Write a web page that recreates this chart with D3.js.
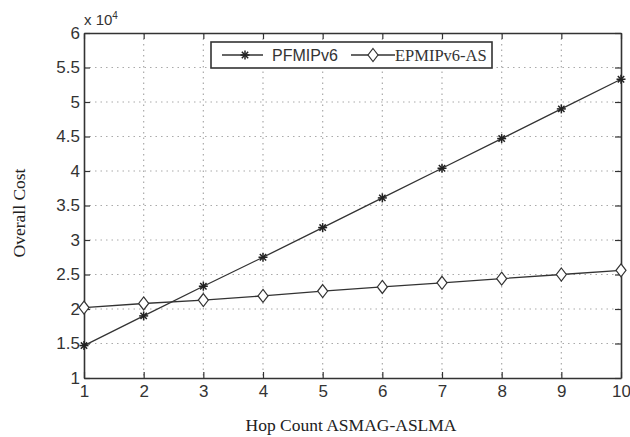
<!DOCTYPE html>
<html>
<head>
<meta charset="utf-8">
<script src="https://cdn.jsdelivr.net/npm/d3@7/dist/d3.min.js"></script>
<style>
  body { margin: 0; background: #fff; }
  svg { display: block; }
</style>
</head>
<body>
<svg id="chart" width="630" height="437"></svg>
<script>
// data (values in units of 10^4)
const hops = [1, 2, 3, 4, 5, 6, 7, 8, 9, 10];
const pfmip = [1.47, 1.90, 2.33, 2.75, 3.18, 3.61, 4.04, 4.47, 4.90, 5.33];
const epmipAs = [2.02, 2.08, 2.13, 2.19, 2.26, 2.32, 2.38, 2.44, 2.50, 2.56];
const yTicks = [1, 1.5, 2, 2.5, 3, 3.5, 4, 4.5, 5, 5.5, 6];

const svg = d3.select('#chart');
const m = { left: 84, right: 621, top: 33, bottom: 378 };
const ink = '#333';
const sans = '"Liberation Sans", Arial, sans-serif';
const serif = '"Liberation Serif", "Times New Roman", serif';

const x = d3.scaleLinear().domain([1, 10]).range([m.left, m.right]);
const y = d3.scaleLinear().domain([1, 6]).range([m.bottom, m.top]);

// grid, dotted
const grid = svg.append('g');
grid.selectAll('.gx').data(hops.slice(1, -1)).join('line')
    .attr('x1', d => x(d)).attr('x2', d => x(d))
    .attr('y1', m.top).attr('y2', m.bottom);
grid.selectAll('.gy').data(yTicks.slice(1, -1)).join('line')
    .attr('class', 'gy')
    .attr('y1', d => y(d)).attr('y2', d => y(d))
    .attr('x1', m.left).attr('x2', m.right);
grid.selectAll('line')
    .attr('stroke', '#aaa').attr('stroke-width', 1.2)
    .attr('stroke-dasharray', '1.5,4');

// axes with ticks pointing inside, MATLAB box style
const axB = svg.append('g').attr('transform', `translate(0,${m.bottom})`)
    .call(d3.axisBottom(x).tickValues(hops).tickSizeInner(-6).tickSizeOuter(0).tickPadding(7));
const axT = svg.append('g').attr('transform', `translate(0,${m.top})`)
    .call(d3.axisTop(x).tickValues(hops).tickSizeInner(-6).tickSizeOuter(0).tickFormat(''));
const axL = svg.append('g').attr('transform', `translate(${m.left},0)`)
    .call(d3.axisLeft(y).tickValues(yTicks).tickSizeInner(-6).tickSizeOuter(0).tickPadding(4).tickFormat(d3.format('~g')));
const axR = svg.append('g').attr('transform', `translate(${m.right},0)`)
    .call(d3.axisRight(y).tickValues(yTicks).tickSizeInner(-6).tickSizeOuter(0).tickFormat(''));

[axB, axT, axL, axR].forEach(a => {
    a.select('.domain').attr('stroke', ink).attr('stroke-width', 1.6);
    a.selectAll('.tick line').attr('stroke', ink).attr('stroke-width', 1.2);
    a.selectAll('text').attr('fill', '#333')
        .style('font-family', sans)
        .style('font-size', '17px');
});

// exponent label
const ex = svg.append('text').attr('x', 84).attr('y', 25)
    .attr('fill', '#333')
    .style('font-family', sans)
    .style('font-size', '15px');
ex.append('tspan').text('x 10');
ex.append('tspan').attr('dy', -6).style('font-size', '10px').text('4');

// series lines
const line = d3.line().x((d, i) => x(hops[i])).y(d => y(d));
[pfmip, epmipAs].forEach(s => {
    svg.append('path').datum(s)
        .attr('d', line)
        .attr('fill', 'none')
        .attr('stroke', ink)
        .attr('stroke-width', 1.3);
});

function asterisk(g, cx, cy, r) {
    const p = g.append('g').attr('transform', `translate(${cx},${cy})`)
        .attr('stroke', '#222').attr('stroke-width', 1.5);
    [0, 45, 90, 135].forEach(a => {
        const t = a * Math.PI / 180;
        p.append('line')
            .attr('x1', -r * Math.cos(t)).attr('y1', -r * Math.sin(t))
            .attr('x2', r * Math.cos(t)).attr('y2', r * Math.sin(t));
    });
}
function diamond(g, cx, cy, w, h) {
    g.append('path')
        .attr('d', `M${cx},${cy - h}L${cx + w},${cy}L${cx},${cy + h}L${cx - w},${cy}Z`)
        .attr('fill', '#fff').attr('stroke', ink).attr('stroke-width', 1.2);
}

const marks = svg.append('g');
pfmip.forEach((v, i) => asterisk(marks, x(hops[i]), y(v), 4.5));
epmipAs.forEach((v, i) => diamond(marks, x(hops[i]), y(v), 5, 6.5));

// legend
const lg = svg.append('g');
lg.append('rect').attr('x', 211).attr('y', 42).attr('width', 281).attr('height', 26)
    .attr('fill', '#fff').attr('stroke', ink).attr('stroke-width', 1.6);
lg.append('line').attr('x1', 222).attr('x2', 263).attr('y1', 55).attr('y2', 55)
    .attr('stroke', ink).attr('stroke-width', 1.3);
asterisk(lg, 245, 55, 4.5);
lg.append('text').attr('x', 272).attr('y', 61).text('PFMIPv6')
    .attr('fill', '#333')
    .style('font-family', sans)
    .style('font-size', '16px');
lg.append('line').attr('x1', 351).attr('x2', 395).attr('y1', 55).attr('y2', 55)
    .attr('stroke', ink).attr('stroke-width', 1.3);
diamond(lg, 373, 55, 5, 6.5);
lg.append('text').attr('x', 395).attr('y', 61).text('EPMIPv6-AS')
    .attr('fill', '#333')
    .style('font-family', serif)
    .style('font-size', '16.5px');

// axis titles
svg.append('text').attr('x', 351).attr('y', 431)
    .attr('text-anchor', 'middle').text('Hop Count ASMAG-ASLMA')
    .attr('fill', '#222')
    .style('font-family', serif)
    .style('font-size', '17.5px');
svg.append('text').attr('transform', 'translate(25,213) rotate(-90)')
    .attr('text-anchor', 'middle').text('Overall Cost')
    .attr('fill', '#222')
    .style('font-family', serif)
    .style('font-size', '17.5px');
</script>
</body>
</html>
